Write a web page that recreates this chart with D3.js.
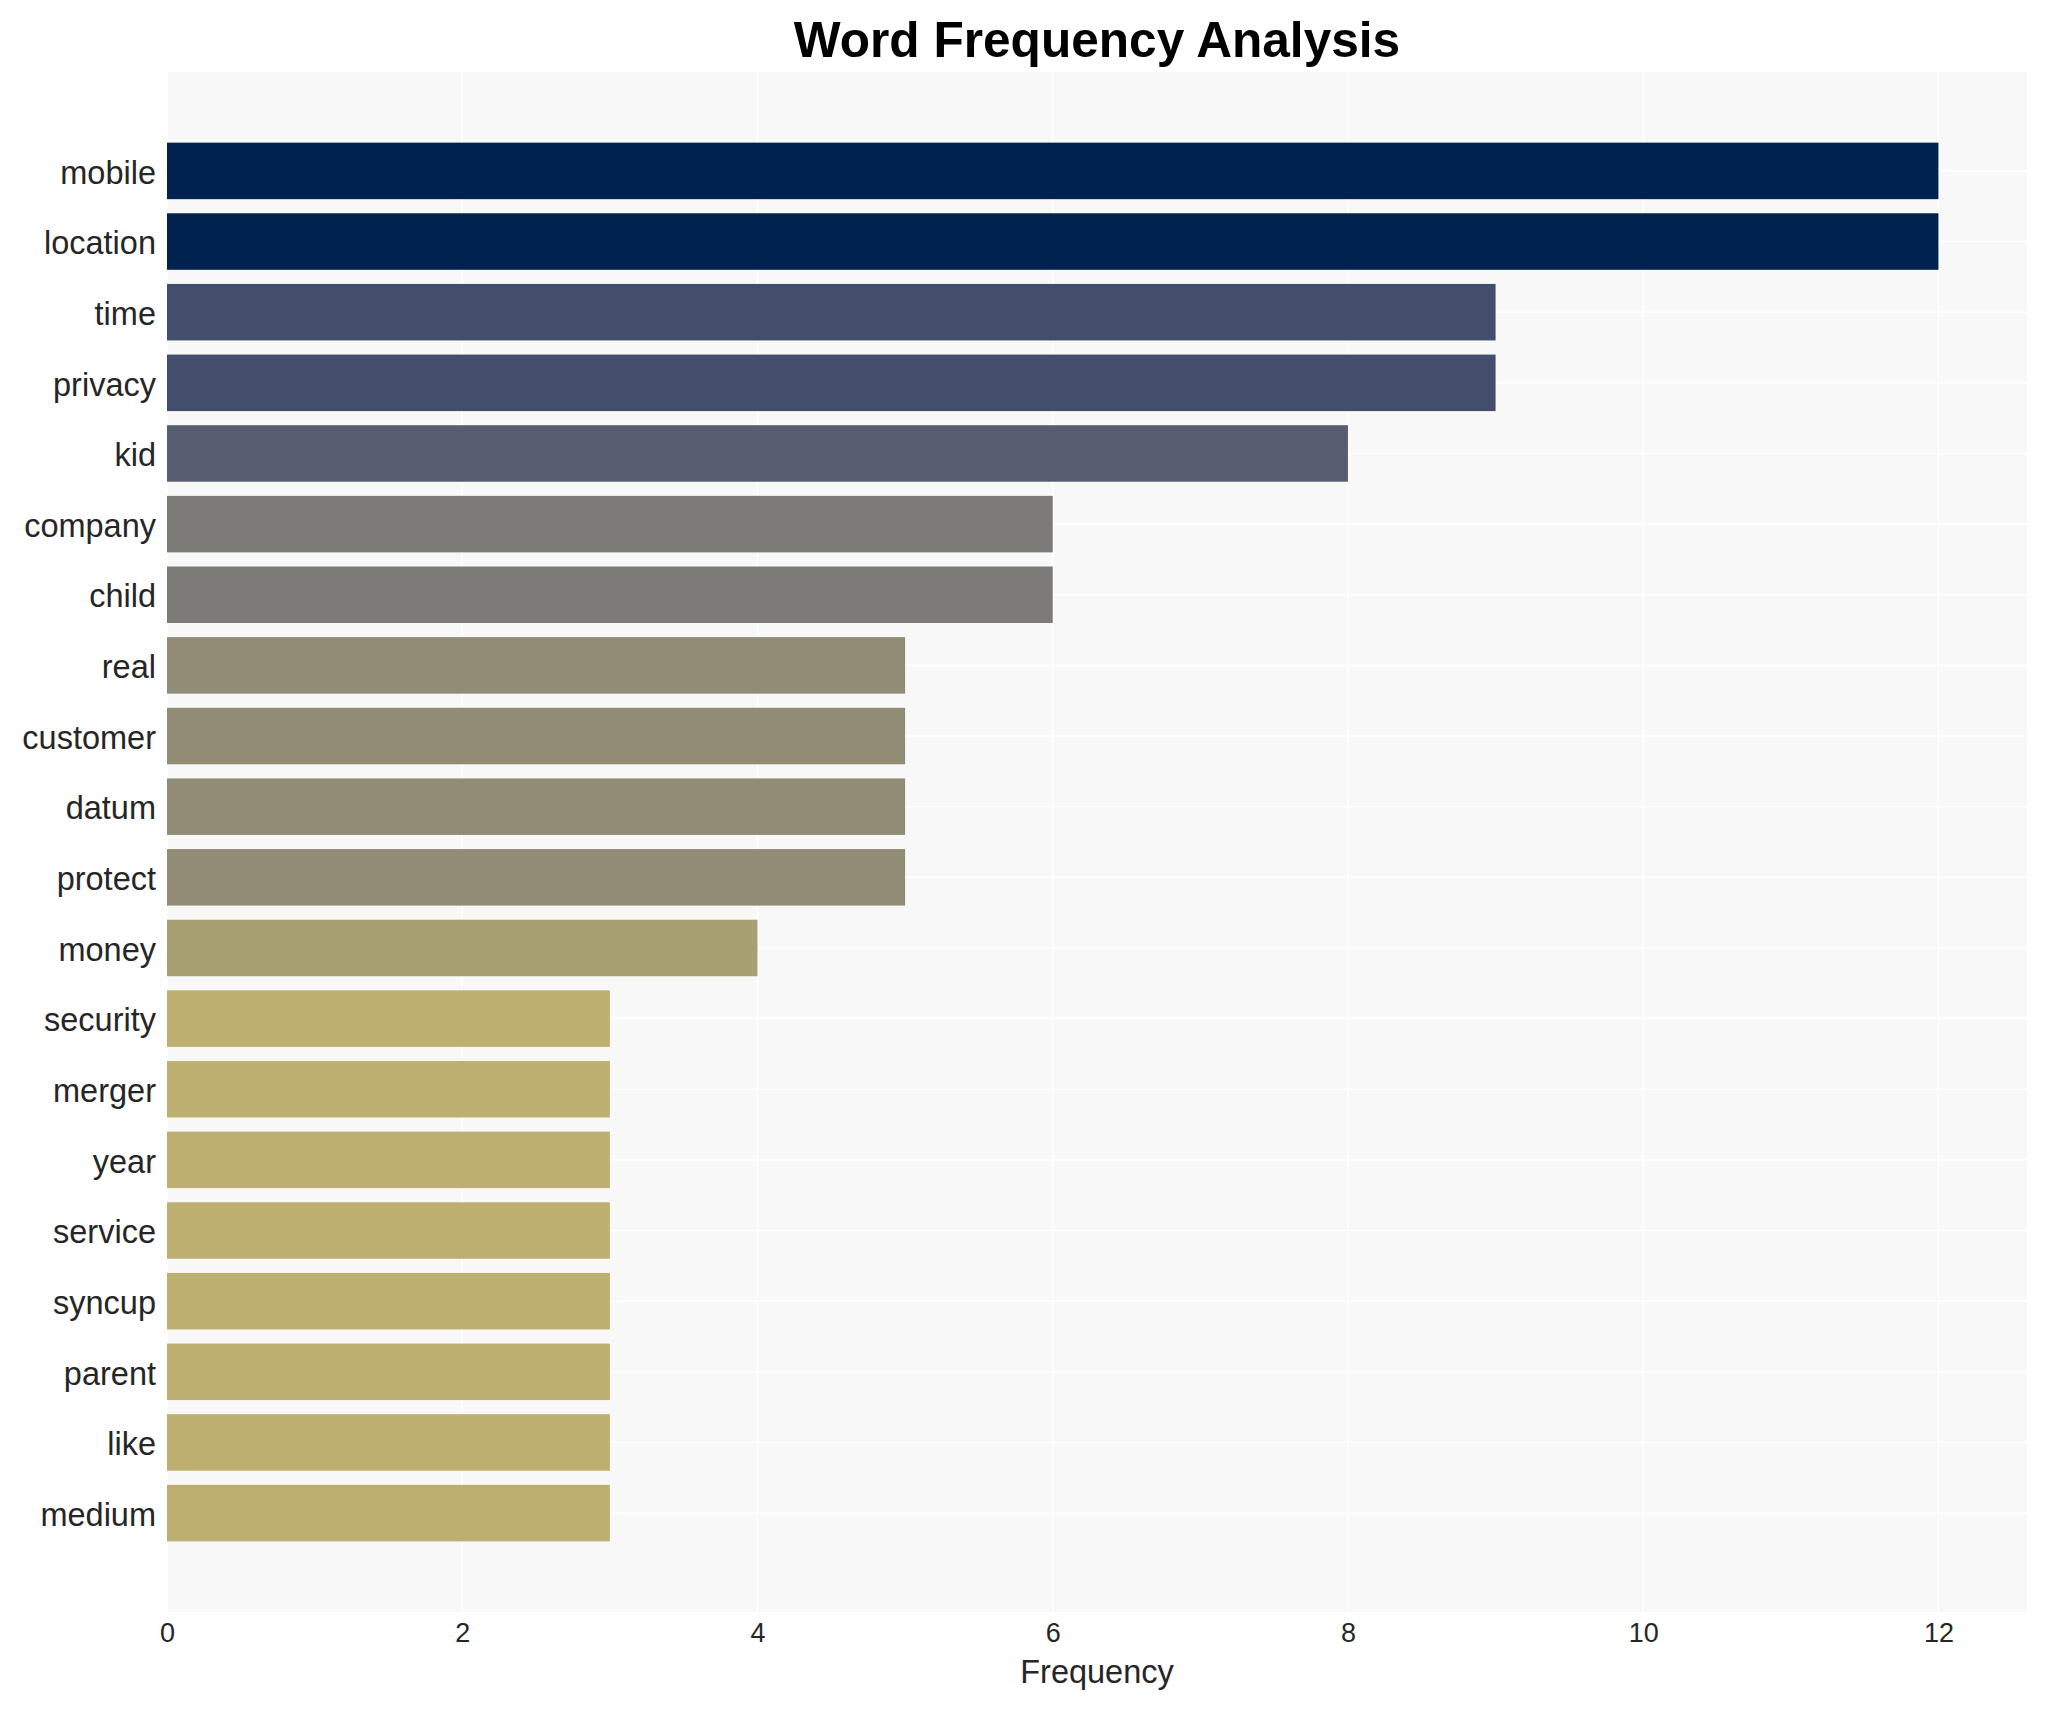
<!DOCTYPE html>
<html>
<head>
<meta charset="utf-8">
<script src="https://cdn.jsdelivr.net/npm/d3@7"></script>
<style>
  body { margin: 0; background: #fff; }
  svg { display: block; font-family: "Liberation Sans", Arial, sans-serif; }
</style>
</head>
<body>
<script>
// word frequency chart, horizontal bars

var words = ["mobile", "location", "time", "privacy", "kid", "company", "child",
  "real", "customer", "datum", "protect", "money", "security", "merger", "year",
  "service", "syncup", "parent", "like", "medium"];
var counts = [12, 12, 9, 9, 8, 6, 6, 5, 5, 5, 5, 4, 3, 3, 3, 3, 3, 3, 3, 3];
var xTicks = [0, 2, 4, 6, 8, 10, 12];

var W = 2046, H = 1710;
var m = { top: 72, right: 19, bottom: 98, left: 167 };
var iw = W - m.left - m.right, ih = H - m.top - m.bottom;

var svg = d3.select("body").append("svg").attr("width", W).attr("height", H);

var x = d3.scaleLinear().domain([0, d3.max(counts) * 1.05]).range([0, iw]);
var y = d3.scaleBand().domain(words).range([0, ih]).paddingInner(0.2).paddingOuter(1.0);

// cividis, reversed against the max count
var cividis = d3.scaleLinear()
  .domain([0, 0.25, 0.5, 0.75, 1])
  .range(["#00224e", "#434e6c", "#7c7b78", "#bcaf6f", "#fee838"])
  .interpolate(d3.interpolateRgb);
var color = function(v) { return cividis(1 - v / d3.max(counts)); };

var g = svg.append("g").attr("transform", "translate(" + m.left + "," + m.top + ")");

g.append("rect").attr("width", iw).attr("height", ih).attr("fill", "#f8f8f8");

// grid
g.selectAll(".vg").data(xTicks).enter().append("line")
  .attr("x1", d => x(d)).attr("x2", d => x(d))
  .attr("y1", 0).attr("y2", ih)
  .attr("stroke", "#fff").attr("stroke-width", 1.6);
g.selectAll(".hg").data(words).enter().append("line")
  .attr("x1", 0).attr("x2", iw)
  .attr("y1", d => y(d) + y.bandwidth() / 2).attr("y2", d => y(d) + y.bandwidth() / 2)
  .attr("stroke", "#fff").attr("stroke-width", 1.6);

// bars
g.selectAll(".bar").data(words).enter().append("rect")
  .attr("x", 0)
  .attr("y", d => y(d))
  .attr("width", (d, i) => x(counts[i]))
  .attr("height", y.bandwidth())
  .attr("fill", (d, i) => color(counts[i]));

// axes
var xAxis = g.append("g").attr("transform", "translate(0," + ih + ")")
  .call(d3.axisBottom(x).tickValues(xTicks).tickSize(0).tickPadding(11));
xAxis.select(".domain").remove();
xAxis.attr("font-size", 27).attr("font-family", "Liberation Sans, Arial, sans-serif");
xAxis.selectAll("text").attr("fill", "#262626");

var yAxis = g.append("g")
  .call(d3.axisLeft(y).tickSize(0).tickPadding(11));
yAxis.select(".domain").remove();
yAxis.attr("font-size", 32.5).attr("font-family", "Liberation Sans, Arial, sans-serif");
yAxis.selectAll("text").attr("fill", "#262626").attr("dy", "0.39em");

// labels
svg.append("text")
  .attr("x", m.left + iw / 2).attr("y", 1683)
  .attr("text-anchor", "middle")
  .attr("font-size", 32.5).attr("fill", "#262626")
  .text("Frequency");

svg.append("text")
  .attr("x", m.left + iw / 2).attr("y", 57)
  .attr("text-anchor", "middle")
  .attr("font-size", 49.6).attr("font-weight", "bold").attr("fill", "#000")
  .text("Word Frequency Analysis");
</script>
</body>
</html>
